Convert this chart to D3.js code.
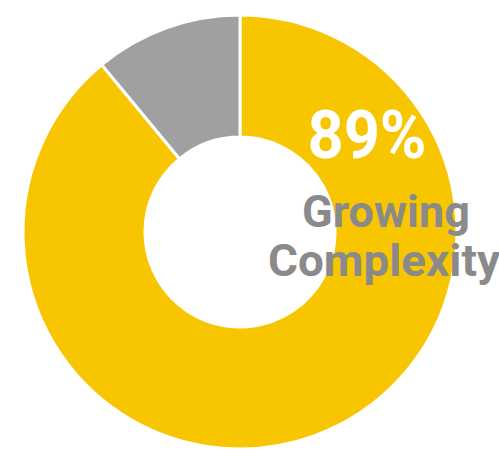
<!DOCTYPE html>
<html><head><meta charset="utf-8">
<script src="https://cdn.jsdelivr.net/npm/d3@7"></script>
<style>html,body{margin:0;padding:0;background:#fff;overflow:hidden}</style>
</head><body>
<svg id="c" width="499" height="449"></svg>
<script>
const categories = ["Growing Complexity", "Other"];
const values = [89, 11];
const colors = ["#f8c600", "#a0a0a0"];
const labelValue = "89%";
const labelLines = ["Growing", "Complexity"];

const svg = d3.select("#c");
const cx = 240, cy = 232, outerR = 217, innerR = 95;
const pie = d3.pie().sort(null).value(d => d)(values);
const arc = d3.arc().innerRadius(innerR).outerRadius(outerR);
const g = svg.append("g").attr("transform", `translate(${cx},${cy})`);
g.selectAll("path").data(pie).join("path")
  .attr("d", arc)
  .attr("fill", (d, i) => colors[i])
  .attr("stroke", "#fff")
  .attr("stroke-width", 3);

svg.append("text").attr("x", 367).attr("y", 158)
  .attr("text-anchor", "middle")
  .attr("font-family", "Roboto, sans-serif").attr("font-weight", 700)
  .attr("font-size", 67).attr("fill", "#fff")
  .attr("textLength", 119).attr("lengthAdjust", "spacingAndGlyphs")
  .text(labelValue);

const lineY = [227, 276];
const lineX = [386, 384];
const lineW = [168, 232];
labelLines.forEach((t, i) => {
  svg.append("text").attr("x", lineX[i]).attr("y", lineY[i])
    .attr("text-anchor", "middle")
    .attr("font-family", "Roboto, sans-serif").attr("font-weight", 700)
    .attr("font-size", 45).attr("fill", "#8a8a8a")
    .attr("textLength", lineW[i]).attr("lengthAdjust", "spacingAndGlyphs")
    .text(t);
});
</script>
</body></html>
